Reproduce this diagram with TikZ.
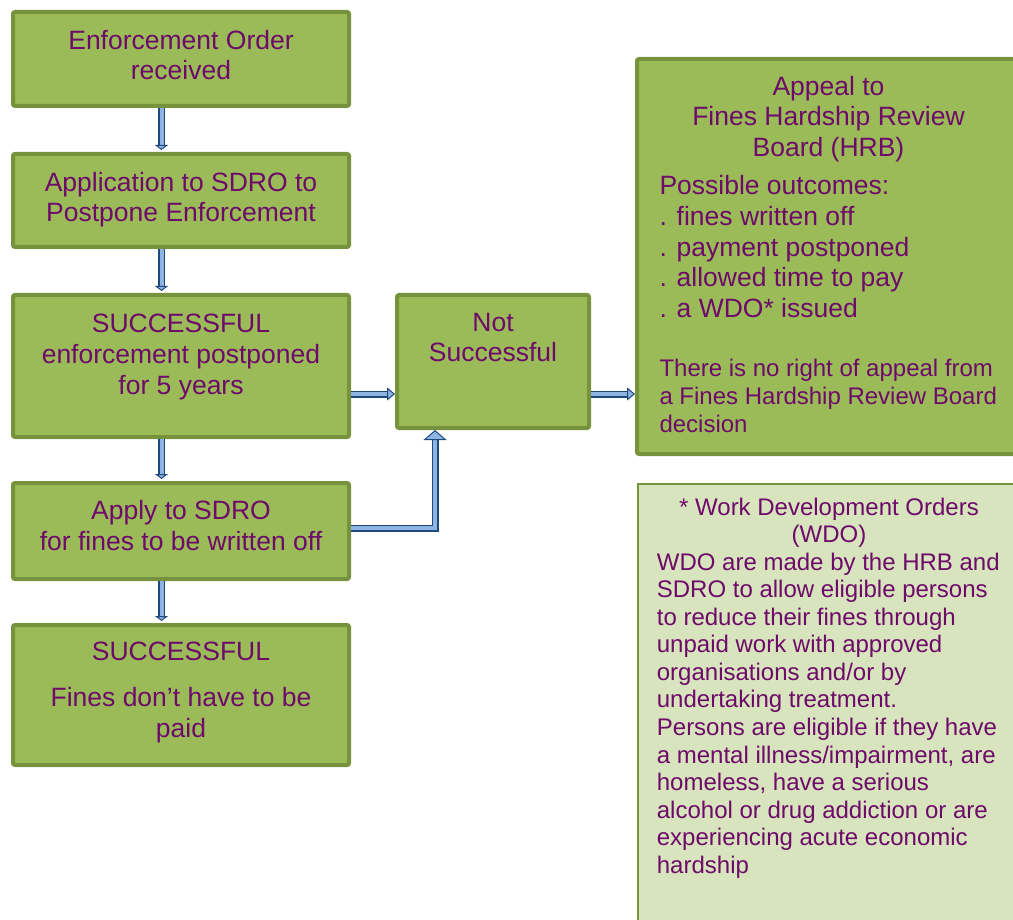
\documentclass[tikz,border=0pt]{standalone}
\usepackage{fontspec}
\setmainfont{Liberation Sans}
\usetikzlibrary{arrows.meta}
\definecolor{boxfill}{RGB}{155,187,89}
\definecolor{boxline}{RGB}{118,146,60}
\definecolor{notefill}{RGB}{215,228,189}
\definecolor{txtcol}{RGB}{110,10,105}
\definecolor{arrdark}{RGB}{31,73,125}
\definecolor{arrlight}{RGB}{141,180,226}
\begin{document}
\begin{tikzpicture}[x=1pt,y=-1pt,
  box/.style={draw=boxline, fill=boxfill, line width=4pt, rounded corners=2pt, inner sep=0pt},
  notebox/.style={draw=boxline, fill=notefill, line width=1.5pt, inner sep=0pt},
  txt/.style={text=txtcol, inner sep=0pt, align=center, anchor=base, font=\fontsize{26.5}{30.5}\selectfont},
  txtl/.style={text=txtcol, inner sep=0pt, align=left, anchor=base west},
  conn/.style={draw=arrdark, line width=1.5pt, double=arrlight, double distance=4pt},
  vtip/.style={-{Triangle[width=13pt,length=5pt,line width=1pt,fill=arrlight]}},
  htip/.style={-{Triangle[width=13pt,length=8pt,line width=1pt,fill=arrlight]}},
  btip/.style={-{Triangle[width=23pt,length=10pt,line width=1pt,fill=arrlight]}}
]
\useasboundingbox (0,0) rectangle (1013,920);
\fill[white] (0,0) rectangle (1013,920);
\clip (0,0) rectangle (1013,920);

% boxes
\node[box, minimum width=336pt, minimum height=94pt] (b1) at (181,59) {};
\node[box, minimum width=336pt, minimum height=93pt] (b2) at (181,200.5) {};
\node[box, minimum width=336pt, minimum height=142pt] (b3) at (181,366) {};
\node[box, minimum width=336pt, minimum height=96pt] (b4) at (181,531) {};
\node[box, minimum width=336pt, minimum height=140pt] (b5) at (181,695) {};
\node[box, minimum width=192pt, minimum height=133pt] (ns) at (493,361.5) {};
\node[box, minimum width=383pt, minimum height=395pt] (hrb) at (828.5,256.5) {};
\node[notebox, minimum width=382pt, minimum height=456pt] (wdo) at (829,712) {};

% texts (anchored at the baseline of their last line)
\node[txt] (t1) at (181,80) {Enforcement Order\\received};
\node[txt] (t2) at (181,221.7) {Application to SDRO to\\Postpone Enforcement};
\node[txt, font=\fontsize{26.5}{30.75}\selectfont] (t3) at (181,394) {SUCCESSFUL\\enforcement postponed\\for 5 years};
\node[txt] (t4) at (181,550) {Apply to SDRO\\for fines to be written off};
\node[txt] (t5) at (181,737) {SUCCESSFUL\\[16pt]Fines don’t have to be\\paid};
\node[txt] (tns) at (493,361.7) {Not\\Successful};
\node[txt, font=\fontsize{26.5}{30.8}\selectfont] (th1) at (828.5,156.7) {Appeal to\\Fines Hardship Review\\Board (HRB)};
\node[txtl, font=\fontsize{26.5}{30.7}\selectfont] (th2) at (659.3,317.7) {Possible outcomes:\\. fines written off\\. payment postponed\\. allowed time to pay\\. a WDO* issued};
\node[txtl, font=\fontsize{24}{28}\selectfont] (th3) at (659.3,432.7) {There is no right of appeal from\\a Fines Hardship Review Board\\decision};
\node[txt, font=\fontsize{24}{27.6}\selectfont] (tw1) at (829,542.6) {* Work Development Orders\\(WDO)};
\node[txtl, font=\fontsize{24}{27.57}\selectfont] (tw2) at (656.7,873.3) {WDO are made by the HRB and\\SDRO to allow eligible persons\\to reduce their fines through\\unpaid work with approved\\organisations and/or by\\undertaking treatment.\\Persons are eligible if they have\\a mental illness/impairment, are\\homeless, have a serious\\alcohol or drug addiction or are\\experiencing acute economic\\hardship};

% connectors
\draw[conn, vtip] ([xshift=-19.5pt]b1.south) -- ([xshift=-19.5pt,yshift=2pt]b2.north);
\draw[conn, vtip] ([xshift=-19.5pt]b2.south) -- ([xshift=-19.5pt,yshift=2pt]b3.north);
\draw[conn, vtip] ([xshift=-19.5pt]b3.south) -- ([xshift=-19.5pt,yshift=2pt]b4.north);
\draw[conn, vtip] ([xshift=-19.5pt]b4.south) -- ([xshift=-19.5pt,yshift=2pt]b5.north);
\draw[conn, htip] (b3.east |- 0,394) -- (ns.west |- 0,394);
\draw[conn, htip] (ns.east |- 0,394) -- (hrb.west |- 0,394);
\draw[conn, btip] (b4.east |- 0,528) -| ([xshift=-58pt]ns.south);
\end{tikzpicture}
\end{document}
